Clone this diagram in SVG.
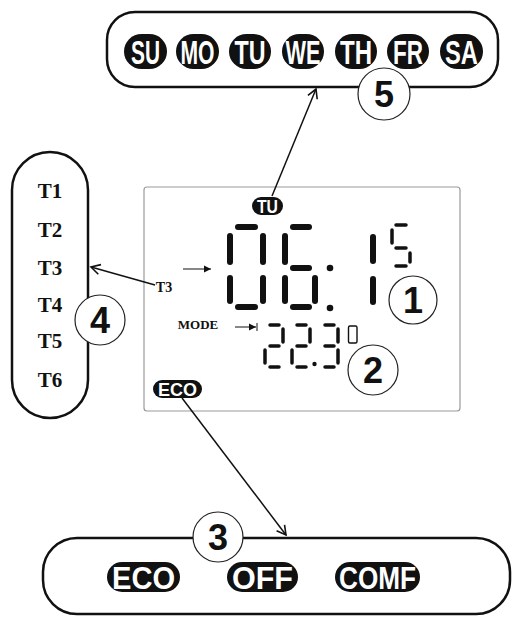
<svg xmlns="http://www.w3.org/2000/svg" width="515" height="627" viewBox="0 0 515 627">
<defs>
<style>
.box{fill:none;stroke:#111;stroke-width:2.5}
.lcd{fill:#fff;stroke:#9a9a9a;stroke-width:1.2}
.pill{fill:#111}
.pt{fill:#fff;font-family:"Liberation Sans",Arial,sans-serif;font-weight:bold;text-anchor:middle}
.tl{fill:#111;font-family:"Liberation Serif","Times New Roman",serif;font-weight:bold;text-anchor:middle}
.num{fill:#fff;stroke:#222;stroke-width:1.2}
.nt{fill:#111;font-family:"Liberation Sans",Arial,sans-serif;font-weight:bold;font-size:36px;text-anchor:middle}
.seg{stroke:#111;stroke-width:6;stroke-linecap:round}
.sseg{stroke:#111;stroke-width:3.5;stroke-linecap:round}
.con{stroke:#111;stroke-width:1.5;fill:none}
.thin{stroke:#111;stroke-width:1;fill:none}
</style>
<marker id="open" markerWidth="12" markerHeight="12" refX="10" refY="6" orient="auto" markerUnits="userSpaceOnUse">
<path d="M1,1 L10,6 L1,11" fill="none" stroke="#111" stroke-width="1.6"/>
</marker>
<marker id="tri" markerWidth="8" markerHeight="8" refX="7" refY="4" orient="auto" markerUnits="userSpaceOnUse">
<path d="M0,0.5 L7,4 L0,7.5 Z" fill="#111"/>
</marker>
</defs>
<rect width="515" height="627" fill="#fff"/>

<g id="days">
<rect class="box" x="107" y="12" width="391" height="75" rx="28"/>
<rect class="pill" x="124" y="34" width="43" height="35" rx="17.5"/>
<text class="pt" x="145.5" y="63.5" font-size="34" textLength="29" lengthAdjust="spacingAndGlyphs">SU</text>
<rect class="pill" x="176" y="34" width="43" height="35" rx="17.5"/>
<text class="pt" x="197.5" y="63.5" font-size="34" textLength="34" lengthAdjust="spacingAndGlyphs">MO</text>
<rect class="pill" x="229" y="34" width="42" height="35" rx="17.5"/>
<text class="pt" x="250" y="63.5" font-size="34" textLength="31" lengthAdjust="spacingAndGlyphs">TU</text>
<rect class="pill" x="282" y="34" width="42" height="35" rx="17.5"/>
<text class="pt" x="303" y="63.5" font-size="34" textLength="35" lengthAdjust="spacingAndGlyphs">WE</text>
<rect class="pill" x="335" y="34" width="42" height="35" rx="17.5"/>
<text class="pt" x="356" y="63.5" font-size="34" textLength="32" lengthAdjust="spacingAndGlyphs">TH</text>
<rect class="pill" x="387" y="34" width="42" height="35" rx="17.5"/>
<text class="pt" x="408" y="63.5" font-size="34" textLength="30" lengthAdjust="spacingAndGlyphs">FR</text>
<rect class="pill" x="440" y="34" width="43" height="35" rx="17.5"/>
<text class="pt" x="461.5" y="63.5" font-size="34" textLength="33" lengthAdjust="spacingAndGlyphs">SA</text>
</g>

<g id="periods">
<rect class="box" x="12" y="152" width="76" height="266" rx="38"/>
<text class="tl" x="50" y="198" font-size="21">T1</text>
<text class="tl" x="50" y="237" font-size="21">T2</text>
<text class="tl" x="50" y="275" font-size="21">T3</text>
<text class="tl" x="50" y="312" font-size="21">T4</text>
<text class="tl" x="50" y="348" font-size="21">T5</text>
<text class="tl" x="50" y="387" font-size="21">T6</text>
</g>

<g id="modes">
<rect class="box" x="43" y="538" width="467" height="76" rx="34"/>
<rect class="pill" x="107" y="562" width="73" height="30" rx="15"/>
<text class="pt" x="143.5" y="589" font-size="32" textLength="63" lengthAdjust="spacingAndGlyphs">ECO</text>
<rect class="pill" x="227" y="562" width="71" height="30" rx="15"/>
<text class="pt" x="262.5" y="589" font-size="32" textLength="61" lengthAdjust="spacingAndGlyphs">OFF</text>
<rect class="pill" x="335" y="562" width="85" height="30" rx="15"/>
<text class="pt" x="377.5" y="589" font-size="32" textLength="77" lengthAdjust="spacingAndGlyphs">COMF</text>
</g>

<g id="display">
<rect class="lcd" x="144" y="187" width="316" height="224" rx="3"/>
<rect class="pill" x="252" y="197" width="31" height="18" rx="9"/>
<text class="pt" x="267.5" y="212.5" font-size="18" textLength="21" lengthAdjust="spacingAndGlyphs">TU</text>
<rect class="pill" x="153" y="380" width="49" height="18" rx="9"/>
<text class="pt" x="177.5" y="395.5" font-size="18" textLength="39" lengthAdjust="spacingAndGlyphs">ECO</text>
<text class="tl" x="164" y="292" font-size="14">T3</text>
<text class="tl" x="198" y="329" font-size="13">MODE</text>
<line class="thin" x1="183" y1="269" x2="211" y2="269" marker-end="url(#tri)"/>
<line class="thin" x1="235" y1="327" x2="256" y2="327" marker-end="url(#tri)"/>
<line class="thin" x1="257" y1="323" x2="257" y2="331"/>
<g id="big-digits">
<line class="seg" x1="238" y1="227" x2="255" y2="227"/>
<line class="seg" x1="230" y1="236" x2="230" y2="262"/>
<line class="seg" x1="263" y1="236" x2="263" y2="262"/>
<line class="seg" x1="230" y1="278" x2="230" y2="301"/>
<line class="seg" x1="263" y1="278" x2="263" y2="301"/>
<line class="seg" x1="238" y1="307" x2="255" y2="307"/>
<line class="seg" x1="293" y1="227" x2="309" y2="227"/>
<line class="seg" x1="285" y1="236" x2="285" y2="262"/>
<line class="seg" x1="293" y1="268" x2="309" y2="268"/>
<line class="seg" x1="285" y1="278" x2="285" y2="301"/>
<line class="seg" x1="315" y1="278" x2="315" y2="301"/>
<line class="seg" x1="293" y1="307" x2="309" y2="307"/>
<circle cx="330" cy="268" r="3.3" fill="#111"/>
<circle cx="330" cy="308" r="3.3" fill="#111"/>
<line class="seg" x1="373" y1="237" x2="373" y2="261"/>
<line class="seg" x1="373" y1="279" x2="373" y2="302"/>
<line class="sseg" x1="396" y1="225" x2="406" y2="225"/>
<line class="sseg" x1="392" y1="230" x2="392" y2="243"/>
<line class="sseg" x1="396" y1="248" x2="406" y2="248"/>
<line class="sseg" x1="410" y1="253" x2="410" y2="262"/>
<line class="sseg" x1="396" y1="266" x2="406" y2="266"/>
</g>
<g id="small-digits">
<line class="sseg" x1="270" y1="325" x2="279" y2="325"/>
<line class="sseg" x1="283" y1="329" x2="283" y2="342"/>
<line class="sseg" x1="270" y1="346" x2="279" y2="346"/>
<line class="sseg" x1="265" y1="350" x2="265" y2="363"/>
<line class="sseg" x1="270" y1="367" x2="279" y2="367"/>
<line class="sseg" x1="297" y1="325" x2="306" y2="325"/>
<line class="sseg" x1="310" y1="329" x2="310" y2="342"/>
<line class="sseg" x1="297" y1="346" x2="306" y2="346"/>
<line class="sseg" x1="292" y1="350" x2="292" y2="363"/>
<line class="sseg" x1="297" y1="367" x2="306" y2="367"/>
<circle cx="314.5" cy="364" r="2.2" fill="#111"/>
<line class="sseg" x1="325" y1="325" x2="334" y2="325"/>
<line class="sseg" x1="338" y1="329" x2="338" y2="342"/>
<line class="sseg" x1="325" y1="346" x2="334" y2="346"/>
<line class="sseg" x1="338" y1="350" x2="338" y2="363"/>
<line class="sseg" x1="325" y1="367" x2="334" y2="367"/>
<rect x="348.5" y="326" width="8.5" height="17" rx="1.5" fill="none" stroke="#111" stroke-width="1.4"/>
</g>
</g>

<g id="connectors">
<line class="con" x1="272" y1="196" x2="316" y2="89" marker-end="url(#open)"/>
<line class="con" x1="155" y1="285" x2="91" y2="267" marker-end="url(#open)"/>
<line class="con" x1="182" y1="398" x2="286" y2="535" marker-end="url(#open)"/>
</g>

<g id="n1"><circle class="num" cx="413" cy="300" r="24"/><text class="nt" x="413" y="313">1</text></g>
<g id="n2"><circle class="num" cx="373" cy="370" r="25"/><text class="nt" x="373" y="383">2</text></g>
<g id="n3"><circle class="num" cx="218" cy="537" r="25"/><text class="nt" x="218" y="550">3</text></g>
<g id="n4"><circle class="num" cx="100" cy="320" r="25"/><text class="nt" x="100" y="333">4</text></g>
<g id="n5"><circle class="num" cx="384" cy="94" r="26"/><text class="nt" x="384" y="107">5</text></g>
</svg>
